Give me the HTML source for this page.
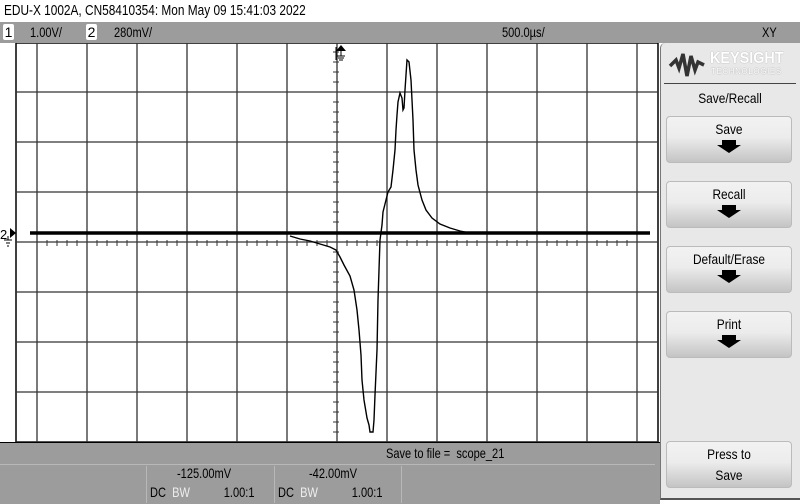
<!DOCTYPE html>
<html><head><meta charset="utf-8"><style>
body{margin:0;width:800px;height:503px;overflow:hidden;background:#fff;font-family:"Liberation Sans",sans-serif;position:relative}
.a{position:absolute}
.t{font-size:14px;transform:scaleX(0.79);transform-origin:left top;white-space:nowrap}
.btn{position:absolute;left:666px;width:124px;height:45px;border:1px solid #bbb;border-radius:4px;background:linear-gradient(#f2f2f2 0%,#ececec 45%,#c4c4c4 100%);text-align:center;font-size:14px}
.btn .l{position:absolute;left:0;right:0;top:4px;transform:scaleX(0.85)}
.arr{position:absolute;left:50px;top:28px;width:0;height:0;border-left:12px solid transparent;border-right:12px solid transparent;border-top:8px solid #000}
.arr:before{content:"";position:absolute;left:-7px;top:-13px;width:14px;height:5px;background:#000}
</style></head><body>
<div class="a t" style="left:4px;top:2px;font-size:15px">EDU-X 1002A, CN58410354: Mon May 09 15:41:03 2022</div>
<div class="a" style="left:0;top:22px;width:800px;height:21px;background:#9c9c9c"></div>
<div class="a" style="left:3px;top:24px;width:11px;height:16px;background:#fff;border-radius:2px;font-size:14px;text-align:center">1</div>
<div class="a t" style="left:30px;top:24px">1.00V/</div>
<div class="a" style="left:86px;top:24px;width:11px;height:16px;background:#fff;border-radius:2px;font-size:14px;text-align:center">2</div>
<div class="a t" style="left:114px;top:24px">280mV/</div>
<div class="a t" style="left:502px;top:24px">500.0µs/</div>
<div class="a t" style="left:762px;top:24px">XY</div>

<svg class="a" style="left:0;top:43px" width="660" height="399">
<g id="grid" transform="translate(0,-43)"></g>
<g id="trace" transform="translate(0,-43)"></g>
</svg>

<div class="a" style="left:660px;top:43px;width:140px;height:455px;background:#e8e8e8;border-top-left-radius:5px;border-left:1px solid #777;border-bottom:2px solid #555"></div>
<svg class="a" style="left:668px;top:50px" width="40" height="30"><path d="M2 16 L8 10 L11 18 L15 4 L19 26 L23 6 L27 20 L30 12 L36 15" stroke="#333" stroke-width="3.5" fill="none"/></svg>
<div class="a" style="left:710px;top:50px;color:#fff;font-weight:bold;font-size:16px;transform:scaleX(0.9);transform-origin:left top;text-shadow:0 0 1px #888">KEYSIGHT</div>
<div class="a" style="left:711px;top:67px;color:#fff;font-size:8px;letter-spacing:0.6px;text-shadow:0 0 1px #888">TECHNOLOGIES</div>
<div class="a" style="left:664px;top:83px;width:132px;height:1px;background:#444"></div>
<div class="a" style="left:660px;width:140px;top:90px;text-align:center;font-size:14px;transform:scaleX(0.85)">Save/Recall</div>
<div class="btn" style="top:116px"><div class="l">Save</div><div class="arr"></div></div>
<div class="btn" style="top:181px"><div class="l">Recall</div><div class="arr"></div></div>
<div class="btn" style="top:246px"><div class="l">Default/Erase</div><div class="arr"></div></div>
<div class="btn" style="top:311px"><div class="l">Print</div><div class="arr"></div></div>
<div class="btn" style="top:441px;line-height:21px"><div class="l" style="top:2px">Press to<br>Save</div></div>

<div class="a" style="left:0;top:442px;width:660px;height:61px;background:#9c9c9c;border-top:1px solid #000"></div>
<div class="a" style="left:0;top:464px;width:655px;height:1px;background:#b8b8b8"></div>
<div class="a t" style="left:386px;top:445px">Save to file =&nbsp; scope_21</div>
<div class="a" style="left:146px;top:466px;width:1px;height:37px;background:#b8b8b8"></div>
<div class="a" style="left:274px;top:466px;width:1px;height:37px;background:#b8b8b8"></div>
<div class="a" style="left:401px;top:466px;width:1px;height:37px;background:#b8b8b8"></div>
<div class="a t" style="left:177px;top:465px">-125.00mV</div>
<div class="a t" style="left:150px;top:484px">DC &nbsp;<span style="color:#eee">BW</span> &nbsp; &nbsp; &nbsp; &nbsp; &nbsp; 1.00:1</div>
<div class="a t" style="left:309px;top:465px">-42.00mV</div>
<div class="a t" style="left:278px;top:484px">DC &nbsp;<span style="color:#eee">BW</span> &nbsp; &nbsp; &nbsp; &nbsp; &nbsp; 1.00:1</div>

<script>
// XY trace in divisions (x: ch1, y: ch2)
const traceX=[-0.94,-0.74,-0.54,-0.34,-0.14,-0.02,0.06,0.14,0.26,0.34,0.40,0.44,0.48,0.50,0.54,0.60,0.64,0.66,0.72,0.74,0.76,0.80,0.82,0.84,0.86,0.90,0.92,0.98,1.02,1.08,1.12,1.16,1.18,1.20,1.22,1.26,1.30,1.32,1.34,1.36,1.40,1.44,1.48,1.50,1.52,1.54,1.58,1.62,1.70,1.78,1.90,2.06,2.26,2.46,2.66];
const traceY=[0.12,0.06,0.02,-0.04,-0.10,-0.16,-0.30,-0.46,-0.68,-0.96,-1.36,-1.76,-2.26,-2.76,-3.16,-3.52,-3.66,-3.80,-3.80,-3.56,-3.06,-2.16,-1.16,-0.56,0.04,0.34,0.60,0.84,1.00,1.10,1.44,1.84,2.24,2.54,2.80,2.98,2.88,2.64,2.68,3.04,3.64,3.60,3.24,2.84,2.44,1.84,1.44,1.14,0.84,0.64,0.48,0.36,0.28,0.22,0.18];
const baselineX=[-6.14,6.26];
const baselineY=[0.18,0.18];
const NS='http://www.w3.org/2000/svg';
const cx=337,cy=242,div=50;
const sx=v=>cx+v*div, sy=v=>cy-v*div;
function mk(tag,attrs,parent){const e=document.createElementNS(NS,tag);for(const k in attrs)e.setAttribute(k,attrs[k]);parent.appendChild(e);return e;}
const g=document.getElementById('grid');
let e=mk('rect',{x:16,y:43,width:642,height:399,fill:'#fff',stroke:'#000','stroke-width':1.5},g);


for(let i=-6;i<=6;i++){e=mk('line',{x1:sx(i),x2:sx(i),y1:43,y2:442,stroke:'#333','stroke-width':1.3},g);

}
for(let j=-4;j<=4;j++){e=mk('line',{x1:16,x2:658,y1:sy(j),y2:sy(j),stroke:'#333','stroke-width':1.3},g);

}
for(let x=cx-300;x<=cx+300;x+=10){mk('line',{x1:x,x2:x,y1:cy-2,y2:cy+4,stroke:'#333'},g);}
for(let y=cy-200;y<=cy+200;y+=10){mk('line',{x1:cx-4,x2:cx+2,y1:y,y2:y,stroke:'#333'},g);}
const tr=document.getElementById('trace');
e=mk('polyline',{points:baselineX.map((v,i)=>sx(v)+','+sy(baselineY[i])).join(' '),stroke:'#000','stroke-width':3.5,fill:'none'},tr);


e=mk('polyline',{points:traceX.map((v,i)=>sx(v)+','+sy(traceY[i])).join(' '),stroke:'#000','stroke-width':1.4,fill:'none'},tr);


e=mk('text',{x:0,y:239,'font-size':13,'font-family':'Liberation Sans'},tr);e.textContent='2';


mk('path',{d:'M10 228 L16 233 L10 238 Z',fill:'#000'},tr);
mk('path',{d:'M4 240 H12 M6 243 H10 M7 246 H9 M8 236 V240',stroke:'#000'},tr);
mk('path',{d:'M341 45 L346 51 H336 Z',fill:'#000'},tr);
mk('path',{d:'M341 51 V56 M337 56 H345 M338 58 H344 M339 60 H343 M336 47 V60',stroke:'#000'},tr);
</script>
</body></html>
